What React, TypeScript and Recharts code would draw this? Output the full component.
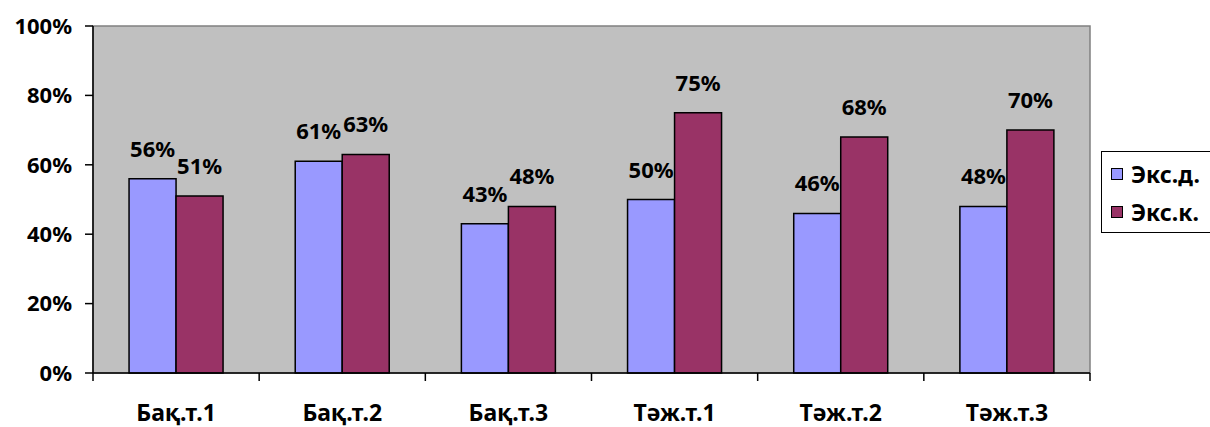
import { BarChart, Bar, XAxis, YAxis, ReferenceArea, Legend, LabelList } from "recharts";

const categories = ["Бақ.т.1", "Бақ.т.2", "Бақ.т.3", "Тәж.т.1", "Тәж.т.2", "Тәж.т.3"];
const eksD = [56, 61, 43, 50, 46, 48];
const eksK = [51, 63, 48, 75, 68, 70];
const yTicks = [0, 20, 40, 60, 80, 100];
const seriesNames = ["Экс.д.", "Экс.к."];

const data = categories.map((name, i) => ({ name, d: eksD[i], k: eksK[i] }));

const FONT = "'Noto Sans', 'DejaVu Sans', sans-serif";
const BLUE = "#9999FF";
const WINE = "#993366";

const XTick = (props: any) => {
  const { x, y, payload, index, visibleTicksCount } = props;
  const half = payload.offset ?? 83;
  return (
    <g>
      <line x1={x - half} x2={x - half} y1={y} y2={y + 8} stroke="#000" strokeWidth={1.5} />
      {index === visibleTicksCount - 1 && (
        <line x1={x + half} x2={x + half} y1={y} y2={y + 8} stroke="#000" strokeWidth={1.5} />
      )}
      <text x={x} y={y + 48} textAnchor="middle" fontFamily={FONT} fontWeight="bold" fontSize={23} fill="#000">
        {payload.value}
      </text>
    </g>
  );
};

const LegendBox = () => (
  <div
    style={{
      width: 120,
      height: 82,
      border: "1.5px solid #000",
      background: "#fff",
      fontFamily: FONT,
      fontWeight: "bold",
      fontSize: 23,
      boxSizing: "border-box",
      textAlign: "left",
      whiteSpace: "nowrap",
    }}
  >
    {seriesNames.map((n, i) => (
      <div key={n} style={{ display: "flex", alignItems: "center", height: 40, paddingLeft: 9, marginTop: i === 0 ? 2 : -2 }}>
        <span
          style={{
            display: "inline-block",
            flex: "none",
            width: 10,
            height: 10,
            border: "1.5px solid #000",
            background: i === 0 ? BLUE : WINE,
            marginRight: 8,
          }}
        />
        {n}
      </div>
    ))}
  </div>
);

export default function App() {
  return (
    <div style={{ position: "absolute", left: 0, top: 0, width: 1210, height: 427, background: "#fff", overflow: "hidden" }}>
      <BarChart
        width={1210}
        height={427}
        data={data}
        margin={{ top: 26, right: 120, left: 0, bottom: 0 }}
        barCategoryGap="21.7%"
        barGap={0}
      >
        <ReferenceArea y1={0} y2={100} fill="#C0C0C0" fillOpacity={1} stroke="#808080" strokeWidth={1.5} />
        <XAxis
          dataKey="name"
          height={54}
          tickSize={0}
          tickMargin={0}
          tick={<XTick />}
          axisLine={{ stroke: "#000", strokeWidth: 1.5 }}
          interval={0}
        />
        <YAxis
          width={93}
          domain={[0, 100]}
          ticks={yTicks}
          interval={0}
          tickFormatter={(v) => `${v}%`}
          tickSize={8}
          tickMargin={13}
          tick={{ fontFamily: FONT, fontWeight: "bold", fontSize: 22, fill: "#000" }}
          tickLine={{ stroke: "#000", strokeWidth: 1.5 }}
          axisLine={{ stroke: "#000", strokeWidth: 1.5 }}
        />
        <Legend
          layout="vertical"
          align="center"
          verticalAlign="middle"
          content={<LegendBox />}
          wrapperStyle={{ position: "absolute", left: 1101, top: 151, width: 120, margin: 0 }}
        />
        <Bar dataKey="d" name={seriesNames[0]} fill={BLUE} stroke="#000" strokeWidth={1.5} isAnimationActive={false}>
          <LabelList
            dataKey="d"
            position="top"
            offset={22}
            formatter={(v: any) => `${v}%`}
            style={{ fontFamily: FONT, fontWeight: "bold", fontSize: 22, fill: "#000" }}
          />
        </Bar>
        <Bar dataKey="k" name={seriesNames[1]} fill={WINE} stroke="#000" strokeWidth={1.5} isAnimationActive={false}>
          <LabelList
            dataKey="k"
            position="top"
            offset={22}
            formatter={(v: any) => `${v}%`}
            style={{ fontFamily: FONT, fontWeight: "bold", fontSize: 22, fill: "#000" }}
          />
        </Bar>
      </BarChart>
    </div>
  );
}
